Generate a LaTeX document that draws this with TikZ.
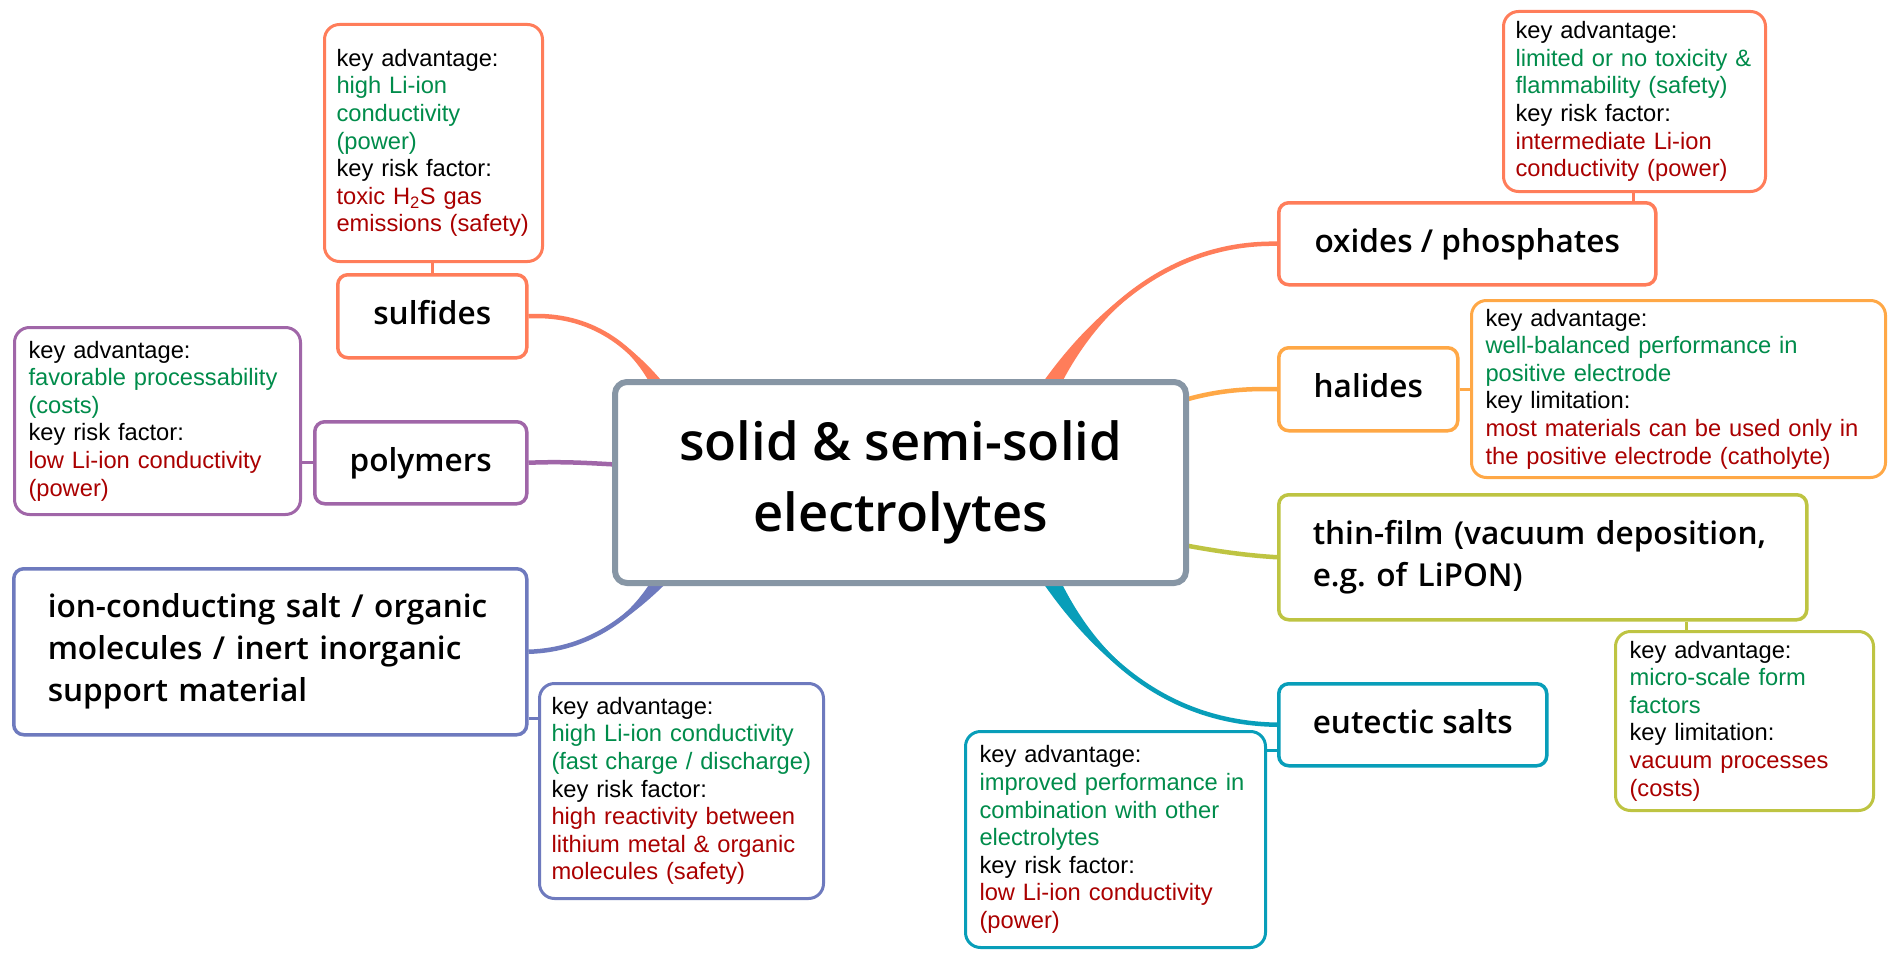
\documentclass[tikz,border=0pt]{standalone}
\usepackage{fontspec}
\setmainfont{Liberation Sans}
\newfontfamily\labfont{Open Sans Semibold}
\usetikzlibrary{calc,backgrounds}
\frenchspacing
\definecolor{corange}{RGB}{255,125,90}
\definecolor{cpurple}{RGB}{160,102,168}
\definecolor{cblue}{RGB}{110,122,190}
\definecolor{cyellow}{RGB}{255,168,70}
\definecolor{colive}{RGB}{190,196,66}
\definecolor{cteal}{RGB}{8,158,185}
\definecolor{cgray}{RGB}{135,150,165}
\definecolor{tgreen}{RGB}{0,140,75}
\definecolor{tred}{RGB}{170,0,0}
\newcommand\advt[1]{\textcolor{tgreen}{#1}}
\newcommand\riskt[1]{\textcolor{tred}{#1}}
\newcommand\branchcurve[6]{%
  \fill[#1] (#2) .. controls (#3) and (#4) .. ($(#5)+(#6)$) -- ($(#5)-(#6)$) .. controls (#4) and (#3) .. (#2) -- cycle;
  \draw[#1, line width=4.5pt] (#2) .. controls (#3) and (#4) .. (#5);}
\tikzset{
  lab/.style={draw=#1, line width=3.5pt, rounded corners=10pt, fill=white, anchor=north west,
    inner xsep=34pt, inner ysep=0pt, align=left, font=\labfont\fontsize{31.6}{42}\selectfont},
  note/.style={draw=#1, line width=3pt, rounded corners=15pt, fill=white, anchor=north west,
    inner xsep=14pt, inner ysep=0pt, align=left, font=\fontsize{23.7}{27.6}\selectfont},
  link/.style={draw=#1, line width=3pt},
}
\begin{document}
\begin{tikzpicture}[x=1pt,y=-1pt]
\useasboundingbox (0,0) rectangle (1896,955);

\node[draw=cgray, line width=6pt, rounded corners=12pt, fill=white, minimum width=571pt, minimum height=201pt,
  inner sep=0pt, align=center, font=\labfont\fontsize{52.5}{71}\selectfont] (core) at (900.5,482.5) {solid \& semi-solid\\electrolytes};

\node[lab=corange, minimum width=189pt, minimum height=83pt] (sulf) at (336,273) {\strut sulfides};
\node[note=corange, minimum width=218pt, minimum height=237pt, inner xsep=12pt, text width=194pt] (sulfnote) at (323,23) {key advantage:\\\advt{high Li-ion}\\\advt{conductivity}\\\advt{(power)}\\key risk factor:\\\riskt{toxic H\textsubscript{2}S gas}\\\riskt{emissions (safety)}};

\node[lab=cpurple, minimum width=212pt, minimum height=82pt] (poly) at (313,420) {\strut polymers};
\node[note=cpurple, minimum width=286pt, minimum height=187pt, text width=258pt] (polynote) at (13,326) {key advantage:\\\advt{favorable processability}\\\advt{(costs)}\\key risk factor:\\\riskt{low Li-ion conductivity}\\\riskt{(power)}};

\node[lab=cblue, minimum width=513pt, minimum height=166pt, text width=445pt] (ion) at (12,567) {ion-conducting salt / organic\\molecules / inert inorganic\\support material};
\node[note=cblue, minimum width=284pt, minimum height=215pt, inner xsep=12pt, text width=260pt] (ionnote) at (538,682) {key advantage:\\\advt{high Li-ion conductivity}\\\advt{(fast charge / discharge)}\\key risk factor:\\\riskt{high reactivity between}\\\riskt{lithium metal \& organic}\\\riskt{molecules (safety)}};

\node[lab=corange, minimum width=377pt, minimum height=82pt] (oxi) at (1277,201) {\strut oxides / phosphates};
\node[note=corange, minimum width=262pt, minimum height=180pt, inner xsep=12pt, text width=238pt] (oxinote) at (1502,10) {key advantage:\\\advt{limited or no toxicity \&}\\\advt{flammability (safety)}\\key risk factor:\\\riskt{intermediate Li-ion}\\\riskt{conductivity (power)}};

\node[lab=cyellow, minimum width=179pt, minimum height=83pt] (hal) at (1277,346) {\strut halides};
\node[note=cyellow, minimum width=414pt, minimum height=177pt, text width=386pt] (halnote) at (1470,299) {key advantage:\\\advt{well-balanced performance in}\\\advt{positive electrode}\\key limitation:\\\riskt{most materials can be used only in}\\\riskt{the positive electrode (catholyte)}};

\node[lab=colive, minimum width=528pt, minimum height=125pt, text width=460pt] (thin) at (1277,493) {thin-film (vacuum deposition,\\e.g.\ of LiPON)};
\node[note=colive, minimum width=258pt, minimum height=179pt, text width=230pt] (thinnote) at (1614,630) {key advantage:\\\advt{micro-scale form}\\\advt{factors}\\key limitation:\\\riskt{vacuum processes}\\\riskt{(costs)}};

\node[lab=cteal, minimum width=268pt, minimum height=82pt] (eut) at (1277,682) {\strut eutectic salts};
\node[note=cteal, minimum width=300pt, minimum height=216pt, text width=272pt] (eutnote) at (964,730) {key advantage:\\\advt{improved performance in}\\\advt{combination with other}\\\advt{electrolytes}\\key risk factor:\\\riskt{low Li-ion conductivity}\\\riskt{(power)}};

\begin{pgfonlayer}{background}
\fill[white] (0,0) rectangle (1896,955);
\coordinate (sS) at ($(core.north west)+(53,18)$);
\coordinate (oS) at ($(core.north west)+(435,13)$);
\coordinate (hS) at ($(core.north east)+(-11,23)$);
\coordinate (tS) at ($(core.south east)+(-11,-42)$);
\coordinate (eS) at ($(core.south west)+(435,-13)$);
\coordinate (iS) at ($(core.south west)+(53,-13)$);
\coordinate (pS) at ($(core.west)+(15,-17.5)$);
\branchcurve{corange}{sulf.east}{590,313}{635,345}{sS}{6.5,-3.8}
\branchcurve{cpurple}{poly.east}{570,461}{600,464}{pS}{0,1.8}
\branchcurve{cblue}{ion.east}{590,650}{635,615}{iS}{6.5,4.8}
\branchcurve{corange}{oxi.west}{1180,242}{1100,300}{oS}{8,4.3}
\branchcurve{cyellow}{hal.west}{1240,388}{1210,392}{hS}{0.6,1.8}
\branchcurve{colive}{thin.west}{1240,555}{1210,550}{tS}{0.5,-1.8}
\branchcurve{cteal}{eut.west}{1170,723}{1095,660}{eS}{8,-4}

\draw[link=corange] (sulf.north) -- (sulf.north |- sulfnote.south);
\coordinate (oxc) at ($(oxi.north east)+(-24,0)$);
\draw[link=corange] (oxc) -- (oxc |- oxinote.south);
\draw[link=cyellow] (hal.east) -- (hal.east -| halnote.west);
\draw[link=cpurple] (poly.west) -- (poly.west -| polynote.east);
\coordinate (ionc) at ($(ion.south east)+(0,-18)$);
\draw[link=cblue] (ionc) -- (ionc -| ionnote.west);
\coordinate (thc) at ($(thin.south west)+(409,0)$);
\draw[link=colive] (thc) -- (thc |- thinnote.north);
\coordinate (euc) at ($(eut.north west)+(0,68)$);
\draw[link=cteal] (euc) -- (euc -| eutnote.east);
\end{pgfonlayer}
\end{tikzpicture}
\end{document}
